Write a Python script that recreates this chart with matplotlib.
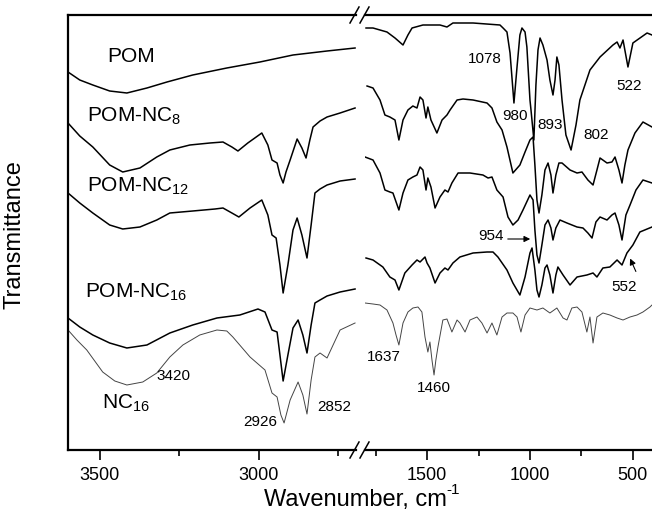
import matplotlib
matplotlib.use("Agg")
import matplotlib.pyplot as plt
from matplotlib.lines import Line2D

plt.rcParams['font.family'] = ['Liberation Sans', 'DejaVu Sans']
plt.rcParams['mathtext.fontset'] = 'custom'
plt.rcParams['mathtext.rm'] = 'Liberation Sans'
plt.rcParams['mathtext.default'] = 'regular'

# ---- spectra, high wavenumber part (3600-2700 cm-1) ----
hi_pom_wn = [3600, 3563, 3522, 3469, 3415, 3352, 3289, 3208, 3101, 2997, 2893, 2786, 2698]
hi_pom_t = [378, 370, 365, 359, 357, 362, 368, 375, 382, 388, 395, 399, 402]

hi_nc8_wn = [3600, 3563, 3522, 3469, 3428, 3374, 3321, 3280, 3217, 3154, 3113, 3085, 3066, 3035,
             2991, 2972, 2959, 2943, 2934, 2924, 2915, 2902, 2880, 2865, 2852, 2840, 2830, 2808,
             2786, 2745, 2698]
hi_nc8_t = [327, 314, 303, 285, 278, 282, 293, 300, 305, 307, 308, 303, 299, 307,
            317, 305, 290, 287, 275, 267, 278, 290, 311, 302, 292, 310, 323, 329,
            333, 337, 342]

hi_nc12_wn = [3600, 3563, 3522, 3469, 3428, 3374, 3321, 3280, 3208, 3138, 3113, 3085, 3063, 3028,
              2991, 2972, 2959, 2946, 2934, 2924, 2909, 2893, 2880, 2865, 2849, 2836, 2824,
              2808, 2786, 2745, 2698]
hi_nc12_t = [257, 247, 237, 225, 221, 223, 230, 237, 239, 241, 242, 237, 233, 242,
             250, 235, 215, 212, 185, 157, 185, 220, 232, 215, 192, 225, 257,
             261, 265, 269, 271]

hi_nc16_wn = [3600, 3563, 3522, 3469, 3415, 3352, 3280, 3208, 3132, 3060, 3003, 2981, 2959, 2943,
              2934, 2924, 2909, 2893, 2877, 2862, 2849, 2836, 2824, 2808, 2786, 2745, 2698]
hi_nc16_t = [132, 123, 115, 107, 102, 105, 117, 125, 132, 135, 141, 138, 120, 118,
             95, 69, 95, 122, 130, 115, 97, 125, 147, 150, 154, 158, 161]

hi_c16_wn = [3600, 3572, 3541, 3491, 3453, 3415, 3365, 3321, 3280, 3239, 3186, 3132, 3101, 3082,
             3028, 2981, 2959, 2943, 2931, 2921, 2902, 2877, 2862, 2849, 2836, 2824, 2808,
             2786, 2767, 2745, 2698]
hi_c16_t = [120, 110, 100, 78, 69, 65, 68, 77, 93, 105, 115, 120, 119, 113,
            93, 80, 57, 53, 35, 27, 50, 68, 55, 36, 70, 93, 97,
            92, 105, 120, 127]

# ---- spectra, low wavenumber part (1800-400 cm-1) ----
lo_pom_wn = [1798, 1764, 1696, 1657, 1618, 1594, 1574, 1521, 1438, 1404, 1375, 1277, 1146,
             1131, 1112, 1097, 1078, 1063, 1049, 1039, 1024, 1015, 1000, 995, 981, 971, 961,
             951, 937, 917, 903, 888, 878, 869, 859, 844, 825, 800, 776, 757, 708, 659, 596,
             576, 562, 547, 523, 499, 430, 406]
lo_pom_t = [422, 422, 418, 412, 405, 415, 422, 425, 425, 423, 427, 427, 425,
            422, 418, 397, 347, 383, 415, 422, 418, 403, 350, 340, 310, 365, 400,
            412, 405, 390, 370, 355, 370, 393, 385, 350, 315, 300, 325, 350, 380, 393, 405,
            408, 402, 410, 383, 407, 417, 415]

lo_nc8_wn = [1793, 1764, 1730, 1706, 1682, 1657, 1638, 1618, 1594, 1570, 1550, 1535, 1521,
             1506, 1497, 1482, 1453, 1428, 1404, 1389, 1355, 1326, 1277, 1209, 1185, 1161,
             1136, 1112, 1083, 1049, 1024, 1000, 985, 976, 966, 956, 942, 927, 912, 898, 888,
             874, 859, 844, 805, 771, 747, 718, 693, 674, 659, 625, 601, 586, 567, 552, 538,
             523, 489, 450, 406]
lo_nc8_t = [364, 362, 350, 335, 333, 330, 310, 330, 340, 344, 342, 353, 350,
            332, 343, 330, 317, 330, 335, 340, 350, 351, 350, 347, 342, 328,
            320, 303, 277, 285, 298, 310, 313, 285, 250, 237, 255, 280, 287, 275, 257,
            275, 287, 287, 280, 277, 278, 270, 265, 280, 292, 287, 288, 293, 280, 267, 285,
            300, 317, 328, 323]

lo_nc12_wn = [1803, 1764, 1730, 1706, 1682, 1667, 1638, 1618, 1594, 1570, 1550, 1535, 1521,
              1506, 1497, 1482, 1462, 1438, 1414, 1399, 1380, 1350, 1292, 1229, 1204, 1185,
              1161, 1131, 1107, 1083, 1058, 1034, 1000, 985, 976, 966, 956, 942, 927, 912,
              898, 888, 874, 854, 820, 771, 742, 718, 698, 679, 659, 625, 601, 586, 567, 552,
              533, 513, 484, 450, 406]
lo_nc12_t = [293, 290, 277, 260, 258, 257, 240, 257, 270, 273, 275, 283, 280,
             260, 272, 263, 242, 253, 260, 258, 267, 277, 277, 275, 272, 273,
             260, 253, 233, 225, 230, 240, 255, 250, 220, 195, 187, 205, 225, 230,
             222, 210, 222, 230, 227, 223, 222, 217, 212, 228, 233, 230, 235, 237, 225, 210,
             235, 245, 260, 270, 267]

lo_nc16_wn = [1798, 1764, 1716, 1682, 1657, 1638, 1609, 1574, 1550, 1535, 1511, 1501, 1487,
              1462, 1438, 1414, 1399, 1375, 1341, 1277, 1209, 1180, 1156, 1112, 1083, 1049,
              1024, 1000, 990, 976, 966, 956, 942, 927, 917, 903, 888, 874, 864, 839, 805,
              771, 723, 693, 674, 645, 611, 576, 552, 528, 499, 465, 406]
lo_nc16_t = [192, 190, 183, 173, 170, 160, 177, 185, 190, 188, 193, 187, 182,
             167, 177, 182, 180, 187, 193, 197, 198, 198, 193, 180, 167, 155,
             173, 197, 202, 180, 160, 153, 165, 182, 185, 175, 157, 175, 183, 175, 165,
             173, 175, 177, 173, 182, 183, 190, 185, 197, 205, 218, 223]

lo_c16_wn = [1803, 1764, 1730, 1696, 1667, 1652, 1638, 1618, 1594, 1570, 1545, 1526, 1511,
             1497, 1487, 1477, 1467, 1458, 1448, 1424, 1404, 1380, 1355, 1341, 1316, 1292,
             1258, 1234, 1209, 1185, 1161, 1136, 1112, 1083, 1063, 1044, 1024, 1000, 966,
             937, 903, 869, 839, 820, 796, 771, 747, 723, 708, 693, 674, 645, 611, 576, 547,
             513, 479, 450, 416, 406]
lo_c16_t = [147, 146, 145, 140, 127, 115, 105, 127, 138, 142, 143, 138, 113,
            98, 108, 90, 75, 90, 103, 130, 131, 118, 130, 127, 118, 130,
            133, 127, 117, 127, 115, 133, 137, 137, 133, 118, 135, 142, 140,
            142, 137, 142, 132, 130, 142, 143, 138, 118, 133, 107, 133, 137, 135, 132, 130,
            133, 135, 138, 143, 145]

W, H = 652, 521
fig = plt.figure(figsize=(W / 100, H / 100), dpi=100)
ax1 = fig.add_axes([68 / W, 71 / H, 288 / W, 435 / H])
ax2 = fig.add_axes([365 / W, 71 / H, 287 / W, 435 / H])

dark = dict(color='black', lw=1.1)
thin = dict(color='#444444', lw=0.7)
ax1.plot(hi_pom_wn, hi_pom_t, **dark)
ax1.plot(hi_nc8_wn, hi_nc8_t, **dark)
ax1.plot(hi_nc12_wn, hi_nc12_t, **dark)
ax1.plot(hi_nc16_wn, hi_nc16_t, **dark)
ax1.plot(hi_c16_wn, hi_c16_t, **thin)
ax2.plot(lo_pom_wn, lo_pom_t, **dark)
ax2.plot(lo_nc8_wn, lo_nc8_t, **dark)
ax2.plot(lo_nc12_wn, lo_nc12_t, **dark)
ax2.plot(lo_nc16_wn, lo_nc16_t, **dark)
ax2.plot(lo_c16_wn, lo_c16_t, **thin)

ax1.set_xlim(3600, 2695)
ax2.set_xlim(1803, 406)
for ax in (ax1, ax2):
    ax.set_ylim(0, 435)
    ax.set_yticks([])
    ax.spines['right'].set_visible(False)
    for s in ax.spines.values():
        s.set_linewidth(1.6)
    ax.tick_params(axis='x', which='major', direction='out', length=7, width=1.2,
                   labelsize=13, pad=5)
    ax.tick_params(axis='x', which='minor', direction='out', length=4, width=1.2)
ax2.spines['left'].set_visible(False)

ax1.set_xticks([3500, 3000])
ax1.set_xticks([3250, 2750], minor=True)
ax2.set_xticks([1500, 1000, 500])
ax2.set_xticks([1750, 1250, 750], minor=True)


def ptxt(x, y, s, size=11, ha='center', va='center'):
    return fig.text(x / W, 1 - y / H, s, fontsize=size, ha=ha, va=va)


# break marks
for yb in (15, 450):
    for xb in (350, 360):
        fig.add_artist(Line2D([xb / W, (xb + 9) / W], [1 - (yb + 8) / H, 1 - (yb - 8) / H],
                              transform=fig.transFigure, color='black', lw=1.1))

# sample labels
ptxt(107, 62, 'POM', 15, ha='left', va='baseline')
ptxt(87, 122, 'POM-NC$_{8}$', 15, ha='left', va='baseline')
ptxt(87, 192, 'POM-NC$_{12}$', 15, ha='left', va='baseline')
ptxt(85, 298, 'POM-NC$_{16}$', 15, ha='left', va='baseline')
ptxt(102, 409, 'NC$_{16}$', 15, ha='left', va='baseline')

# band labels
ptxt(173, 376, '3420')
ptxt(260, 422, '2926')
ptxt(334, 407, '2852')
ptxt(485, 59, '1078')
ptxt(515, 116, '980')
ptxt(550, 125, '893')
ptxt(596, 135, '802')
ptxt(629, 86, '522')
ptxt(491, 236, '954')
ptxt(624, 287, '552')
ptxt(384, 357, '1637')
ptxt(434, 388, '1460')

arrow = dict(arrowstyle='-|>', lw=0.8, color='black', mutation_scale=9)
ax2.annotate('', xy=(533, H - 239), xytext=(505, H - 239), xycoords='figure pixels',
             textcoords='figure pixels', arrowprops=arrow)
ax2.annotate('', xy=(629, H - 256), xytext=(637, H - 274), xycoords='figure pixels',
             textcoords='figure pixels', arrowprops=arrow)

xl = ptxt(355, 500, 'Wavenumber, cm', 17)
ax2.annotate('-1', xy=(1.0, 0.95), xycoords=xl, fontsize=11, ha='left', va='center')
fig.text(15 / W, 1 - 235 / H, 'Transmittance', fontsize=17, rotation=90,
         ha='center', va='center')

fig.savefig('out.png', dpi=100)
